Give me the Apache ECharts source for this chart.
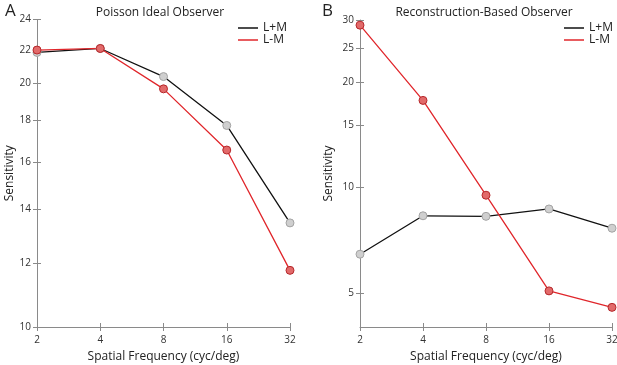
<!DOCTYPE html>
<html>
<head>
<meta charset="utf-8">
<script src="https://cdn.jsdelivr.net/npm/echarts@6/dist/echarts.min.js"></script>
<style>
  html, body { margin: 0; padding: 0; background: #fff; }
  #chart { width: 617px; height: 365px; }
</style>
</head>
<body>
<div id="chart"></div>
<script>
// spatial frequencies (cyc/deg)
const freqs = [2, 4, 8, 16, 32];

// panel A: Poisson ideal observer
const poissonLM = [21.85, 22.1, 20.4, 17.75, 13.45];
const poissonLminusM = [22.0, 22.1, 19.7, 16.55, 11.75];
const poissonTicks = [10, 12, 14, 16, 18, 20, 22, 24];

// panel B: reconstruction-based observer
const reconLM = [6.45, 8.3, 8.27, 8.68, 7.65];
const reconLminusM = [29.0, 17.7, 9.5, 5.07, 4.55];
const reconTicks = [5, 10, 15, 20, 25, 30];

const chart = echarts.init(document.getElementById('chart'));

const pairs = arr => freqs.map((f, i) => [f, arr[i]]);

const axisCommon = {
  axisLine: {lineStyle: {color: '#8a8a8a', width: 1}},
  axisTick: {lineStyle: {color: '#8a8a8a'}, length: 4},
  axisLabel: {color: '#333', fontSize: 10, fontFamily: 'Open Sans'},
  splitLine: {show: false},
  nameTextStyle: {color: '#222', fontSize: 12, fontFamily: 'Open Sans'}
};

const xAxis = (gi, inner) => ({
  ...axisCommon,
  gridIndex: gi,
  position: 'bottom',
  type: 'log',
  logBase: 2,
  min: 2,
  max: 32,
  name: inner ? '' : 'Spatial Frequency (cyc/deg)',
  nameLocation: 'middle',
  nameGap: 24,
  axisLine: {show: !inner, lineStyle: axisCommon.axisLine.lineStyle},
  axisTick: {...axisCommon.axisTick, inside: inner},
  axisLabel: {...axisCommon.axisLabel, show: !inner, margin: 8}
});

// the inner copy only adds the tick half that sits inside the plot
const yAxis = (gi, lo, hi, ticks, gap, inner) => ({
  ...axisCommon,
  gridIndex: gi,
  position: 'left',
  type: 'log',
  min: lo,
  max: hi,
  name: inner ? '' : 'Sensitivity',
  nameLocation: 'middle',
  nameGap: gap,
  axisLine: {show: !inner, lineStyle: axisCommon.axisLine.lineStyle},
  axisTick: {...axisCommon.axisTick, inside: inner, customValues: ticks},
  axisLabel: {...axisCommon.axisLabel, show: !inner, margin: 6, customValues: ticks}
});

const lmStyle = {
  symbol: 'circle',
  symbolSize: 8,
  color: '#111',
  lineStyle: {color: '#111', width: 1.3},
  itemStyle: {color: '#cfcfcf', borderColor: '#a3a3a3', borderWidth: 1}
};
const lmmStyle = {
  symbol: 'circle',
  symbolSize: 8,
  color: '#e0262b',
  lineStyle: {color: '#e0262b', width: 1.3},
  itemStyle: {color: '#e26a6a', borderColor: '#b5272a', borderWidth: 1}
};

const legend = (left) => ({
  left: left,
  top: 22,
  padding: 0,
  orient: 'vertical',
  itemWidth: 20,
  itemHeight: 1.5,
  itemGap: 0,
  icon: 'rect',
  itemStyle: {borderWidth: 0},
  textStyle: {fontSize: 12, color: '#222', fontFamily: 'Open Sans', lineHeight: 12},
  data: [
    {name: 'L+M', itemStyle: {color: '#111', borderWidth: 0}},
    {name: 'L-M', itemStyle: {color: '#e0262b', borderWidth: 0}}
  ]
});

chart.setOption({
  animation: false,
  title: [
    {text: 'A', left: 0, top: -2, textStyle: {fontSize: 17, fontWeight: 'normal', color: '#222', fontFamily: 'Open Sans'}},
    {text: 'B', left: 317, top: -2, textStyle: {fontSize: 17, fontWeight: 'normal', color: '#222', fontFamily: 'Open Sans'}},
    {text: 'Poisson Ideal Observer', left: 155, top: 2, textAlign: 'center',
     textStyle: {fontSize: 12, fontWeight: 'normal', color: '#222', fontFamily: 'Open Sans'}},
    {text: 'Reconstruction-Based Observer', left: 479, top: 2, textAlign: 'center',
     textStyle: {fontSize: 12, fontWeight: 'normal', color: '#222', fontFamily: 'Open Sans'}}
  ],
  legend: [legend(238), legend(564)],
  grid: [
    {left: 37, right: 327, top: 19.5, bottom: 38, outerBoundsMode: 'none'},
    {left: 360, right: 5, top: 20, bottom: 38, outerBoundsMode: 'none'}
  ],
  xAxis: [xAxis(0, false), xAxis(1, false), xAxis(0, true), xAxis(1, true)],
  yAxis: [
    yAxis(0, 10, 24, poissonTicks, 20, false),
    yAxis(1, 4, 30, reconTicks, 25, false),
    yAxis(0, 10, 24, poissonTicks, 20, true),
    yAxis(1, 4, 30, reconTicks, 25, true)
  ],
  series: [
    {name: 'L+M', type: 'line', xAxisIndex: 0, yAxisIndex: 0, data: pairs(poissonLM), ...lmStyle},
    {name: 'L-M', type: 'line', xAxisIndex: 0, yAxisIndex: 0, data: pairs(poissonLminusM), ...lmmStyle},
    {name: 'L+M', type: 'line', xAxisIndex: 1, yAxisIndex: 1, data: pairs(reconLM), ...lmStyle},
    {name: 'L-M', type: 'line', xAxisIndex: 1, yAxisIndex: 1, data: pairs(reconLminusM), ...lmmStyle}
  ]
});
</script>
</body>
</html>
